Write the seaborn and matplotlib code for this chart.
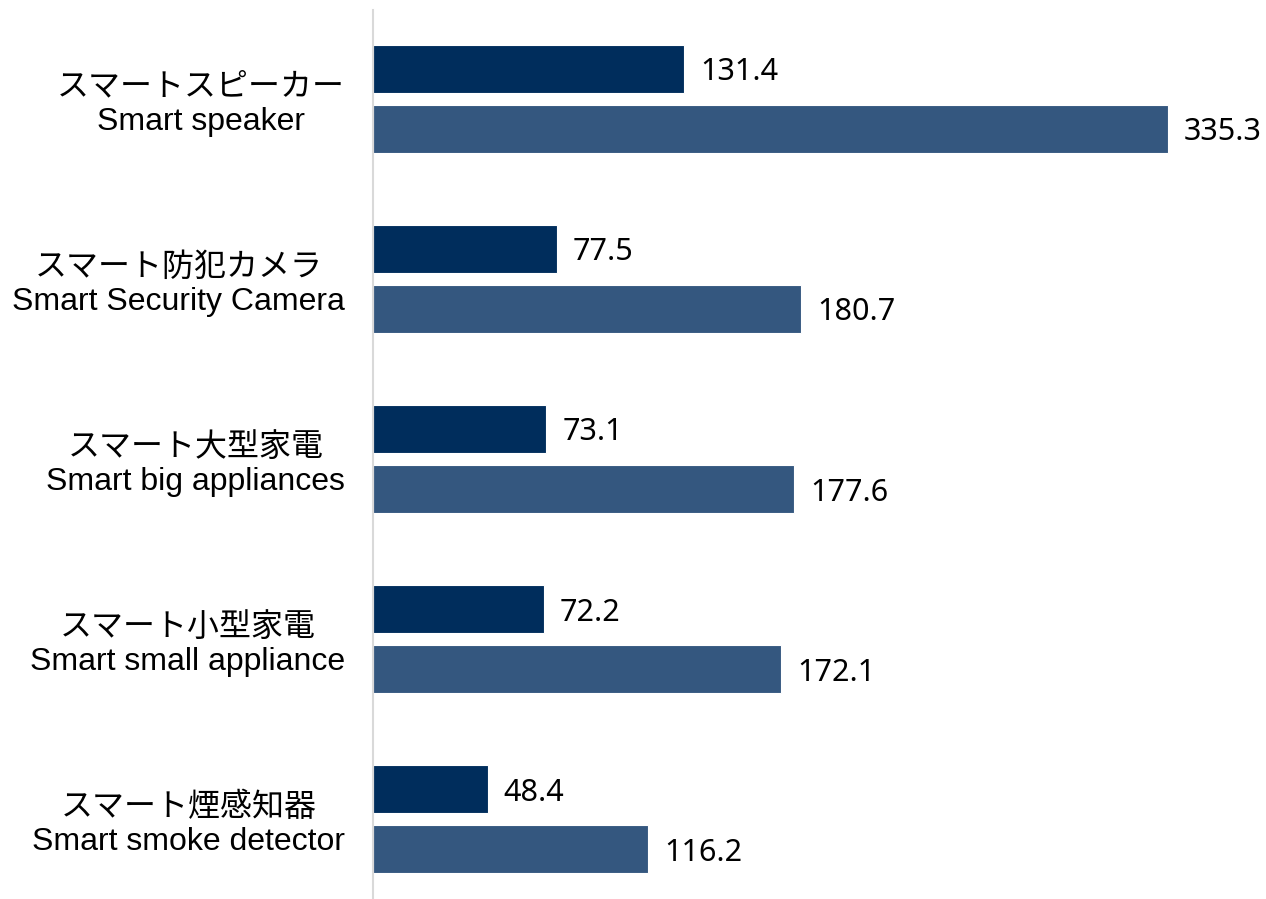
import pandas as pd
import matplotlib
matplotlib.use('Agg')
import matplotlib.pyplot as plt
import seaborn as sns

categories_jp = ['スマートスピーカー', 'スマート防犯カメラ', 'スマート大型家電', 'スマート小型家電', 'スマート煙感知器']
categories_en = ['Smart speaker', 'Smart Security Camera', 'Smart big appliances', 'Smart small appliance', 'Smart smoke detector']
series_names = ['A', 'B']
values_a = [131.4, 77.5, 73.1, 72.2, 48.4]
values_b = [335.3, 180.7, 177.6, 172.1, 116.2]
colors = ['#002D5C', '#34577F']

labels = [jp + '\n' + en for jp, en in zip(categories_jp, categories_en)]
df = pd.DataFrame({
    'category': labels * 2,
    'series': [series_names[0]] * len(labels) + [series_names[1]] * len(labels),
    'value': values_a + values_b,
})

sns.set_theme(style='white')
plt.rcParams['font.family'] = ['Liberation Sans', 'Noto Sans CJK JP', 'DejaVu Sans']

fig = plt.figure(figsize=(12.66, 8.99), dpi=100)
ax = fig.add_axes([373 / 1266, 0, (1266 - 373) / 1266, 889 / 899])

sns.barplot(data=df, x='value', y='category', hue='series', hue_order=series_names,
            palette=colors, orient='h', width=0.667, gap=0.2, saturation=1,
            edgecolor='white', linewidth=0.8, legend=False, ax=ax)

for c in ax.containers:
    texts = ax.bar_label(c, fmt='%.1f', padding=11.5, fontsize=22, family='Noto Sans', color='black')
    for t in texts:
        t.set_va('center_baseline')

ax.set_xlim(0, 376.8)
ax.set_ylim(4.444, -0.494)
ax.set_xlabel('')
ax.set_ylabel('')
ax.set_xticks([])
ax.set_yticks(range(len(labels)))
ax.set_yticklabels(labels, fontsize=23, multialignment='center', color='black')
ax.tick_params(axis='y', length=0, pad=20)
for side in ['top', 'right', 'bottom']:
    ax.spines[side].set_visible(False)
ax.spines['left'].set_color('#D9D9D9')
ax.spines['left'].set_linewidth(1.5)

fig.savefig('out.png', dpi=100)
